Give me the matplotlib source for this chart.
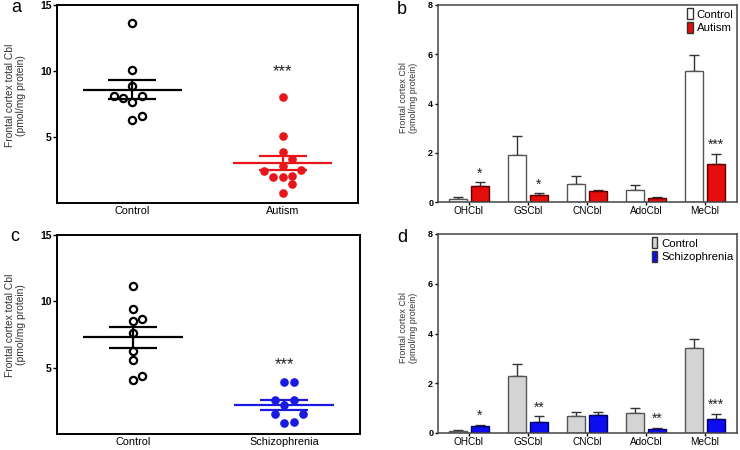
import numpy as np
import matplotlib
matplotlib.use("Agg")
import matplotlib.pyplot as plt
from matplotlib.patches import Patch

plt.rcParams['font.family'] = ['Liberation Sans', 'DejaVu Sans']

# panel a / c: individual values (pmol/mg protein)
ctrl_a = [13.66, 10.07, 8.85, 8.14, 7.92, 8.09, 7.66, 6.60, 6.27]
ctrl_a_slot = [0, 0, 0, -2, -1, 1, 0, 1, 0]
autism_a = [8.04, 5.06, 3.84, 3.36, 2.81, 2.45, 2.50, 2.00, 1.95, 2.07, 1.44, 0.76]
autism_a_slot = [0, 0, 0, 1, 0, -2, 2, -1, 0, 1, 1, 0]

ctrl_c = [11.14, 9.43, 8.48, 8.68, 7.64, 6.29, 5.55, 4.06, 4.35]
ctrl_c_slot = [0, 0, 0, 1, 0, 0, 0, 0, 1]
schizo_c = [3.91, 3.91, 2.54, 2.56, 2.19, 1.49, 1.54, 0.85, 0.92]
schizo_c_slot = [0, 1, -1, 1, 0, -1, 2, 0, 1]

# panel b / d: cobalamin forms, mean and SEM
forms = ["OHCbl", "GSCbl", "CNCbl", "AdoCbl", "MeCbl"]
ctrl_b = [0.13, 1.90, 0.73, 0.50, 5.33]
ctrl_b_sem = [0.08, 0.80, 0.33, 0.21, 0.64]
autism_b = [0.64, 0.27, 0.44, 0.18, 1.54]
autism_b_sem = [0.16, 0.08, 0.06, 0.04, 0.42]
stars_b = ["*", "*", "", "", "***"]

ctrl_d = [0.08, 2.28, 0.70, 0.81, 3.41]
ctrl_d_sem = [0.04, 0.51, 0.16, 0.20, 0.36]
schizo_d = [0.28, 0.44, 0.72, 0.17, 0.57]
schizo_d_sem = [0.05, 0.23, 0.13, 0.04, 0.19]
stars_d = ["*", "**", "", "**", "***"]

W, H = 740, 450
fig = plt.figure(figsize=(W / 100, H / 100), dpi=100)


def axes_px(l, t, r, b):
    return fig.add_axes([l / W, 1 - b / H, (r - l) / W, (b - t) / H])


def dot_panel(ax, groups, labels, stars_text, label_y):
    step = 0.062
    for i, (vals, slots, filled, col) in enumerate(groups):
        vals = np.array(vals)
        xs = i + np.array(slots) * step
        if filled:
            ax.plot(xs, vals, 'o', ms=5.2, mfc=col, mec=col, ls='none', zorder=3)
        else:
            ax.plot(xs, vals, 'o', ms=5.2, mfc='white', mec=col, mew=1.6, ls='none', zorder=3)
        m = vals.mean()
        sem = vals.std(ddof=1) / np.sqrt(len(vals))
        ax.hlines(m, i - 0.33, i + 0.33, color=col, lw=1.6, zorder=4)
        ax.hlines([m - sem, m + sem], i - 0.16, i + 0.16, color=col, lw=1.6, zorder=4)
        ax.vlines(i, m - sem, m + sem, color=col, lw=1.6, zorder=4)
    ax.text(1, stars_text, "***", ha='center', va='center', fontsize=12, color='#222')
    ax.set_xlim(-0.5, 1.5)
    ax.set_ylim(0, 15)
    ax.set_yticks([5, 10, 15])
    ax.set_xticks([0, 1])
    ax.set_xticklabels(labels, fontsize=7.8)
    ax.tick_params(axis='x', length=0, pad=2)
    ax.tick_params(axis='y', length=3, width=1, pad=1, labelsize=7.5)
    for lab in ax.get_yticklabels():
        lab.set_fontweight('bold')
    for s in ax.spines.values():
        s.set_linewidth(1.4)
    ax.set_ylabel("Frontal cortex total Cbl\n(pmol/mg protein)", fontsize=7.4, color='#333',
                  linespacing=1.15)
    ax.yaxis.set_label_coords(-0.102, label_y)


def bar_panel(ax, c_vals, c_sem, g_vals, g_sem, c_col, g_col, g_edge, names, stars):
    x = np.arange(len(forms))
    off, bw = 0.185, 0.30
    ax.bar(x - off, c_vals, bw, color=c_col, edgecolor='#555', lw=1, label=names[0], zorder=2)
    ax.bar(x + off, g_vals, bw, color=g_col, edgecolor=g_edge, lw=1, label=names[1], zorder=2)
    ax.errorbar(x - off, c_vals, yerr=[np.zeros(len(x)), c_sem], fmt='none', ecolor='#333',
                elinewidth=1, capsize=3.5, capthick=1, zorder=1)
    ax.errorbar(x + off, g_vals, yerr=[np.zeros(len(x)), g_sem], fmt='none', ecolor='#333',
                elinewidth=1, capsize=3.5, capthick=1, zorder=1)
    for i, s in enumerate(stars):
        if s:
            ax.text(x[i] + off, g_vals[i] + g_sem[i] + 0.08, s, ha='center', va='bottom',
                    fontsize=10, color='#222')
    ax.set_xlim(-0.525, 4.54)
    ax.set_ylim(0, 8)
    ax.set_yticks([0, 2, 4, 6, 8])
    ax.set_xticks(x)
    ax.set_xticklabels(forms, fontsize=7.2)
    ax.tick_params(axis='x', length=2, width=1, pad=1)
    ax.tick_params(axis='y', length=2.5, width=1, pad=1, labelsize=6.5)
    for lab in ax.get_yticklabels():
        lab.set_fontweight('bold')
    for s in ax.spines.values():
        s.set_linewidth(1.1)
        s.set_color('#444')
    ax.set_ylabel("Frontal cortex Cbl\n(pmol/mg protein)", fontsize=6.4, color='#333',
                  linespacing=1.2)
    ax.yaxis.set_label_coords(-0.067, 0.53)
    handles = [Patch(facecolor=c_col, edgecolor='#333', lw=1),
               Patch(facecolor=g_col, edgecolor='#333', lw=1)]
    ax.legend(handles, names, loc='upper right', frameon=False, fontsize=8.2,
              handlelength=0.5, handleheight=1.1, handletextpad=0.35, labelspacing=0.2,
              borderaxespad=0.0, borderpad=0.3)


ax_a = axes_px(57, 5, 358, 203)
dot_panel(ax_a, [(ctrl_a, ctrl_a_slot, False, 'black'), (autism_a, autism_a_slot, True, '#e8161b')],
          ["Control", "Autism"], 9.95, 0.545)

ax_c = axes_px(57, 235, 360, 434)
dot_panel(ax_c, [(ctrl_c, ctrl_c_slot, False, 'black'), (schizo_c, schizo_c_slot, True, '#1a1ae0')],
          ["Control", "Schizophrenia"], 5.2, 0.548)

ax_b = axes_px(438, 5, 737, 202)
bar_panel(ax_b, ctrl_b, ctrl_b_sem, autism_b, autism_b_sem, 'white', '#e50c0c', '#5a0000',
          ["Control", "Autism"], stars_b)

ax_d = axes_px(438, 234, 737, 433)
bar_panel(ax_d, ctrl_d, ctrl_d_sem, schizo_d, schizo_d_sem, '#d4d4d4', '#0d0df0', '#000060',
          ["Control", "Schizophrenia"], stars_d)

for lbl, px, py in [("a", 16, 7), ("b", 402, 10), ("c", 15, 237), ("d", 402, 238)]:
    fig.text(px / W, 1 - py / H, lbl, ha='center', va='center', fontsize=13)

fig.savefig("out.png", dpi=100)
